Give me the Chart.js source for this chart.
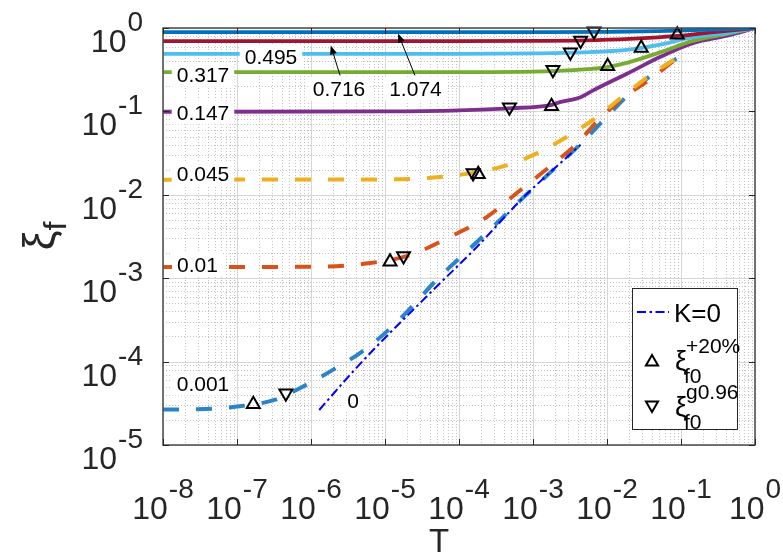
<!DOCTYPE html>
<html>
<head>
<meta charset="utf-8">
<script src="https://cdn.jsdelivr.net/npm/chart.js@4.4.1/dist/chart.umd.min.js"></script>
<style>
  html, body { margin: 0; padding: 0; background: #fff; }
  canvas { display: block; }
</style>
</head>
<body>
<canvas id="chart" width="783" height="558"></canvas>
<script>
// ---- axis decades (tick labels are 10^exponent) ----
const xDecades = [-8, -7, -6, -5, -4, -3, -2, -1, 0];
const yDecades = [-5, -4, -3, -2, -1, 0];

// ---- xi_f(T) curves, one pair of arrays per K ----
const tK0001 = [1e-8, 3e-8, 1.15e-7, 3.2e-7, 7.4e-7, 1.95e-6, 4.9e-6, 1.12e-5, 2.4e-5, 4.5e-5, 2.34e-4, 8.1e-4, 4.4e-3, 2.24e-2, 5.2e-2, 0.1];
const xiK0001 = [2.67e-5, 2.68e-5, 2.93e-5, 3.47e-5, 4.9e-5, 7.9e-5, 1.32e-4, 2.4e-4, 4.7e-4, 8.7e-4, 3.47e-3, 1.0e-2, 4.07e-2, 0.178, 0.324, 0.46];

const tK001 = [1e-8, 1e-6, 6.3e-6, 2.2e-5, 8.3e-5, 2.34e-4, 6.6e-4, 1.86e-3, 3.9e-3, 7.2e-3, 1.66e-2, 4.2e-2, 7.9e-2, 0.1];
const xiK001 = [1.36e-3, 1.37e-3, 1.52e-3, 1.9e-3, 3.27e-3, 5.37e-3, 1.12e-2, 2.34e-2, 4.07e-2, 7.4e-2, 0.145, 0.257, 0.40, 0.45];

const tK0045 = [1e-8, 1e-5, 5.5e-5, 4.4e-4, 1.23e-3, 2.8e-3, 7.2e-3, 1.58e-2, 3.8e-2, 7.9e-2, 0.1];
const xiK0045 = [0.0152, 0.0153, 0.0163, 0.0225, 0.0326, 0.049, 0.085, 0.148, 0.27, 0.41, 0.46];

const tK0147 = [1e-8, 1e-5, 1e-4, 4.8e-4, 1.8e-3, 2.3e-3, 4.4e-3, 6.6e-3, 1.86e-2, 5.2e-2, 0.148, 0.42, 1];
const xiK0147 = [0.099, 0.1, 0.103, 0.109, 0.12, 0.129, 0.148, 0.18, 0.283, 0.449, 0.66, 0.81, 1];

const tK0317 = [1e-8, 1e-4, 1e-3, 4e-3, 1e-2, 1.9e-2, 5.2e-2, 0.145, 0.42, 1];
const xiK0317 = [0.296, 0.296, 0.30, 0.315, 0.34, 0.385, 0.51, 0.70, 0.85, 1];

const tK0495 = [1e-8, 1e-4, 1e-3, 5e-3, 2e-2, 5.2e-2, 0.145, 0.42, 1];
const xiK0495 = [0.49, 0.49, 0.495, 0.51, 0.55, 0.63, 0.776, 0.87, 1];

const tK0716 = [1e-8, 1e-4, 1e-3, 5e-3, 2e-2, 0.1, 0.3, 1];
const xiK0716 = [0.695, 0.695, 0.70, 0.71, 0.74, 0.81, 0.9, 1];

const tK1074 = [1e-8, 1e-4, 1e-3, 1e-2, 5e-2, 0.2, 1];
const xiK1074 = [0.89, 0.89, 0.892, 0.9, 0.915, 0.95, 1];

// K = 0 reference line
const tK0 = [1.29e-6, 3.7e-6, 8.5e-6, 2.95e-5, 3.9e-5, 1.74e-4, 7.4e-4, 1.32e-3, 4.4e-3];
const xiK0 = [2.63e-5, 7.6e-5, 1.66e-4, 5.0e-4, 6.4e-4, 2.37e-3, 9.3e-3, 1.51e-2, 3.98e-2];

// markers: xi_f0^{+20%} (up triangles) and xi_f0^{g0.96} (down triangles)
const tUp  = [1.66e-7, 1.17e-5, 1.82e-4, 1.78e-3, 1.02e-2, 2.9e-2, 8.9e-2];
const xiUp = [3.09e-5, 1.58e-3, 1.76e-2, 0.115, 0.347, 0.575, 0.83];
const tDown  = [4.57e-7, 1.78e-5, 1.55e-4, 4.8e-4, 1.86e-3, 3.2e-3, 4.4e-3, 6.67e-3];
const xiDown = [4.17e-5, 1.84e-3, 1.82e-2, 0.112, 0.316, 0.513, 0.71, 0.916];

// curve labels (K values) placed in data coordinates
const labelText = ['0.495', '0.317', '0.147', '0.045', '0.01', '0.001', '0', '0.716', '1.074'];
const labelT    = [2.88e-7, 3.47e-8, 3.47e-8, 3.47e-8, 2.92e-8, 3.47e-8, 3.7e-6, 2.39e-6, 2.58e-5];
const labelXi   = [0.459, 0.275, 0.0973, 0.0178, 0.00147, 5.48e-5, 3.46e-5, 0.187, 0.187];

// arrows from the 0.716 / 1.074 labels to their curves
const arrowFromT  = [2.47e-6, 2.54e-5];
const arrowFromXi = [0.27, 0.27];
const arrowToT    = [1.85e-6, 1.5e-5];
const arrowToXi   = [0.617, 0.859];

const FONT = '"Liberation Sans", Arial, Helvetica, sans-serif';

function pts(ts, xs) { return ts.map((t, i) => ({ x: t, y: xs[i] })); }

function solidLine(label, ts, xs, color, order) {
  return {
    label, data: pts(ts, xs), borderColor: color, borderWidth: 3.8,
    pointRadius: 0, cubicInterpolationMode: 'monotone', fill: false, order
  };
}
function dashedLine(label, ts, xs, color, order) {
  const d = solidLine(label, ts, xs, color, order);
  d.borderWidth = 4;
  d.borderDash = [16, 17];
  d.borderCapStyle = 'butt';
  return d;
}

const datasets = [
  {
    label: 'up', data: pts(tUp, xiUp), showLine: false, order: 0, clip: false,
    pointStyle: 'triangle', pointRadius: 7.5, pointRotation: 0,
    pointBorderColor: '#000', pointBorderWidth: 2, pointBackgroundColor: 'rgba(0,0,0,0)'
  },
  {
    label: 'down', data: pts(tDown, xiDown), showLine: false, order: 0, clip: false,
    pointStyle: 'triangle', pointRadius: 7.5, pointRotation: 180,
    pointBorderColor: '#000', pointBorderWidth: 2, pointBackgroundColor: 'rgba(0,0,0,0)'
  },
  {
    label: 'K=0', data: pts(tK0, xiK0), borderColor: '#0000ff', borderWidth: 2,
    borderDash: [9, 3.5, 2.5, 3.5], pointRadius: 0, cubicInterpolationMode: 'monotone', order: 1
  },
  solidLine('1.074', tK1074, xiK1074, '#0072BD', 2),
  solidLine('0.716', tK0716, xiK0716, '#A2142F', 3),
  solidLine('0.495', tK0495, xiK0495, '#4DBEEE', 4),
  solidLine('0.317', tK0317, xiK0317, '#77AC30', 5),
  solidLine('0.147', tK0147, xiK0147, '#7E2F8E', 6),
  dashedLine('0.045', tK0045, xiK0045, '#EDB120', 7),
  dashedLine('0.01', tK001, xiK001, '#D95319', 8),
  dashedLine('0.001', tK0001, xiK0001, '#2a84c6', 9)
];

function drawPow(ctx, exp, x, baseY, align) {
  const b = '10', e = String(exp);
  ctx.font = '32px ' + FONT;
  const wb = ctx.measureText(b).width;
  ctx.font = '28px ' + FONT;
  const we = ctx.measureText(e).width;
  const total = wb + 1 + we;
  const x0 = align === 'center' ? x - total / 2 : x - total;
  ctx.textAlign = 'left';
  ctx.textBaseline = 'alphabetic';
  ctx.font = '32px ' + FONT;
  ctx.fillText(b, x0, baseY);
  ctx.font = '28px ' + FONT;
  ctx.fillText(e, x0 + wb + 1, baseY - 21);
}

function triangle(ctx, x, y, r, down) {
  const s = down ? -1 : 1;
  ctx.beginPath();
  ctx.moveTo(x, y - s * r);
  ctx.lineTo(x + r * 0.866, y + s * r * 0.5);
  ctx.lineTo(x - r * 0.866, y + s * r * 0.5);
  ctx.closePath();
  ctx.stroke();
}

function xiWithScripts(ctx, x, baseY, sup, sub) {
  ctx.textAlign = 'left';
  ctx.textBaseline = 'alphabetic';
  ctx.font = '27px ' + FONT;
  ctx.fillText('\u03BE', x, baseY);
  ctx.font = '21px ' + FONT;
  ctx.fillText(sup, x + 11, baseY - 17);
  ctx.fillText(sub, x + 9, baseY + 13);
}

const overlay = {
  id: 'overlay',
  beforeDraw(chart) {
    const ctx = chart.ctx;
    ctx.save();
    ctx.fillStyle = '#fff';
    ctx.fillRect(0, 0, chart.width, chart.height);
    ctx.restore();
  },
  beforeDatasetsDraw(chart) {
    const ctx = chart.ctx, a = chart.chartArea;
    const sx = chart.scales.x, sy = chart.scales.y;
    ctx.save();
    // minor grid (dotted)
    ctx.strokeStyle = '#c2c2c2';
    ctx.lineWidth = 1;
    ctx.setLineDash([1, 2]);
    ctx.beginPath();
    for (let e = -8; e < 0; e++) {
      for (let k = 2; k <= 9; k++) {
        const px = Math.round(sx.getPixelForValue(k * Math.pow(10, e))) + 0.5;
        ctx.moveTo(px, a.top); ctx.lineTo(px, a.bottom);
      }
    }
    for (let e = -5; e < 0; e++) {
      for (let k = 2; k <= 9; k++) {
        const py = Math.round(sy.getPixelForValue(k * Math.pow(10, e))) + 0.5;
        ctx.moveTo(a.left, py); ctx.lineTo(a.right, py);
      }
    }
    ctx.stroke();
    // major grid (solid)
    ctx.setLineDash([]);
    ctx.strokeStyle = '#d6d6d6';
    ctx.beginPath();
    xDecades.forEach(e => {
      const px = Math.round(sx.getPixelForValue(Math.pow(10, e))) + 0.5;
      ctx.moveTo(px, a.top); ctx.lineTo(px, a.bottom);
    });
    yDecades.forEach(e => {
      const py = Math.round(sy.getPixelForValue(Math.pow(10, e))) + 0.5;
      ctx.moveTo(a.left, py); ctx.lineTo(a.right, py);
    });
    ctx.stroke();
    ctx.restore();
  },
  afterDatasetsDraw(chart) {
    const ctx = chart.ctx, a = chart.chartArea;
    const sx = chart.scales.x, sy = chart.scales.y;
    ctx.save();

    // curve labels with white boxes
    labelText.forEach((txt, i) => {
      const cx = sx.getPixelForValue(labelT[i]);
      const cy = sy.getPixelForValue(labelXi[i]);
      ctx.font = '21px ' + FONT;
      const w = ctx.measureText(txt).width;
      ctx.fillStyle = '#fff';
      ctx.fillRect(cx - w / 2 - 5, cy - 12, w + 10, 24);
      ctx.fillStyle = '#000';
      ctx.textAlign = 'center';
      ctx.textBaseline = 'alphabetic';
      ctx.fillText(txt, cx, cy + 7.5);
    });

    // arrows
    ctx.strokeStyle = '#000';
    ctx.fillStyle = '#000';
    ctx.lineWidth = 1;
    arrowFromT.forEach((t0, i) => {
      const x0 = sx.getPixelForValue(t0), y0 = sy.getPixelForValue(arrowFromXi[i]);
      const x1 = sx.getPixelForValue(arrowToT[i]), y1 = sy.getPixelForValue(arrowToXi[i]);
      const ang = Math.atan2(y1 - y0, x1 - x0);
      const hl = 9, hw = 3.5;
      const bx = x1 - hl * Math.cos(ang), by = y1 - hl * Math.sin(ang);
      ctx.beginPath(); ctx.moveTo(x0, y0); ctx.lineTo(bx, by); ctx.stroke();
      ctx.beginPath();
      ctx.moveTo(x1, y1);
      ctx.lineTo(bx + hw * Math.sin(ang), by - hw * Math.cos(ang));
      ctx.lineTo(bx - hw * Math.sin(ang), by + hw * Math.cos(ang));
      ctx.closePath(); ctx.fill();
    });

    // axes box and inward ticks
    ctx.strokeStyle = '#4a4a4a';
    ctx.lineWidth = 1.5;
    ctx.strokeRect(a.left, a.top, a.right - a.left, a.bottom - a.top);
    ctx.lineWidth = 1;
    ctx.strokeStyle = '#262626';
    ctx.beginPath();
    xDecades.forEach(e => {
      const px = Math.round(sx.getPixelForValue(Math.pow(10, e))) + 0.5;
      ctx.moveTo(px, a.bottom); ctx.lineTo(px, a.bottom - 6);
      ctx.moveTo(px, a.top); ctx.lineTo(px, a.top + 6);
    });
    yDecades.forEach(e => {
      const py = Math.round(sy.getPixelForValue(Math.pow(10, e))) + 0.5;
      ctx.moveTo(a.left, py); ctx.lineTo(a.left + 6, py);
      ctx.moveTo(a.right, py); ctx.lineTo(a.right - 6, py);
    });
    ctx.stroke();

    // tick labels
    ctx.fillStyle = '#262626';
    xDecades.forEach(e => {
      drawPow(ctx, e, sx.getPixelForValue(Math.pow(10, e)), a.bottom + 74, 'center');
    });
    yDecades.forEach(e => {
      drawPow(ctx, e, a.left - 20, sy.getPixelForValue(Math.pow(10, e)) + 24, 'right');
    });

    // axis titles
    ctx.textAlign = 'center';
    ctx.textBaseline = 'alphabetic';
    ctx.font = '33px ' + FONT;
    ctx.fillText('T', (a.left + a.right) / 2 - 20, a.bottom + 107);

    ctx.save();
    ctx.translate(54, 236);
    ctx.rotate(-Math.PI / 2);
    ctx.textAlign = 'left';
    ctx.font = '44px ' + FONT;
    const wXi = ctx.measureText('\u03BE').width;
    ctx.font = '32px ' + FONT;
    const wF = ctx.measureText('f').width;
    const start = -(wXi + wF) / 2;
    ctx.font = '44px ' + FONT;
    ctx.fillText('\u03BE', start, 0);
    ctx.font = '32px ' + FONT;
    ctx.fillText('f', start + wXi, 12);
    ctx.restore();

    // legend
    const lx = a.right - 123, ly = a.top + 260, lw = 105, lh = 141;
    ctx.fillStyle = '#fff';
    ctx.fillRect(lx, ly, lw, lh);
    ctx.strokeStyle = '#262626';
    ctx.lineWidth = 1;
    ctx.strokeRect(lx + 0.5, ly + 0.5, lw, lh);

    ctx.strokeStyle = '#0000ff';
    ctx.lineWidth = 2;
    ctx.setLineDash([9, 3.5, 2.5, 3.5]);
    ctx.beginPath();
    ctx.moveTo(lx + 5, ly + 24); ctx.lineTo(lx + 37, ly + 24);
    ctx.stroke();
    ctx.setLineDash([]);

    ctx.fillStyle = '#000';
    ctx.textAlign = 'left';
    ctx.font = '26px ' + FONT;
    ctx.fillText('K=0', lx + 42, ly + 34);

    ctx.strokeStyle = '#000';
    ctx.lineWidth = 2;
    triangle(ctx, lx + 20, ly + 74, 7, false);
    triangle(ctx, lx + 20, ly + 117, 7, true);

    xiWithScripts(ctx, lx + 43, ly + 82, '+20%', 'f0');
    xiWithScripts(ctx, lx + 43, ly + 128, 'g0.96', 'f0');

    ctx.restore();
  }
};

new Chart(document.getElementById('chart'), {
  type: 'line',
  data: { datasets },
  options: {
    responsive: false,
    animation: false,
    devicePixelRatio: 1,
    layout: { padding: { left: 163, right: 28, top: 28, bottom: 113 } },
    plugins: { legend: { display: false }, tooltip: { enabled: false } },
    scales: {
      x: { type: 'logarithmic', min: 1e-8, max: 1, display: false },
      y: { type: 'logarithmic', min: 1e-5, max: 1, display: false }
    }
  },
  plugins: [overlay]
});
</script>
</body>
</html>
